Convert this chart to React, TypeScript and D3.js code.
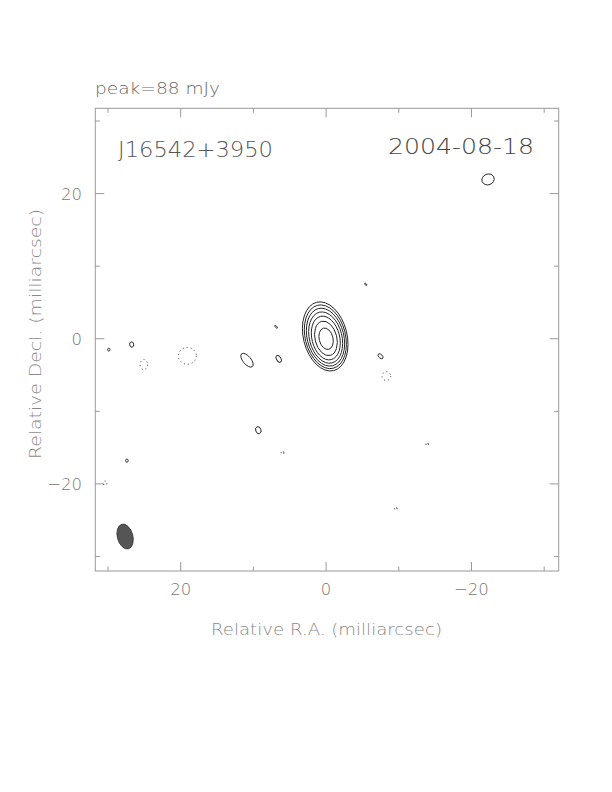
import React from "react";
import * as d3 from "d3";

// ---- data (milliarcsec) ----
const xDomain = [31.75, -32];
const yDomain = [31.75, -32];
const majorTicks = [20, 0, -20];
const minorTicks = [30, 10, -10, -30];
const tickLabels = ["20", "0", "\u221220"];

const sourceName = "J16542+3950";
const obsDate = "2004-08-18";
const peakLabel = "peak=88 mJy";
const xTitle = "Relative R.A. (milliarcsec)";
const yTitle = "Relative Decl. (milliarcsec)";

// positive contours: [x, y, semi-axis along PA, perpendicular semi-axis, rotation deg]
const coreContours: number[][] = [
  [0.12, 0.32, 4.85, 3.0, -14],
  [0.1, 0.27, 4.47, 2.77, -14],
  [0.08, 0.22, 4.06, 2.52, -14],
  [0.06, 0.16, 3.6, 2.24, -14],
  [0.04, 0.1, 3.07, 1.91, -14],
  [0.02, 0.05, 2.42, 1.5, -14],
  [0.0, 0.0, 1.5, 0.95, -14],
];

const positiveContours: number[][] = [
  [-22.28, 21.95, 0.74, 0.86, -20],
  [10.88, -2.96, 1.15, 0.55, -40],
  [6.52, -2.77, 0.5, 0.3, -30],
  [-7.49, -2.41, 0.42, 0.25, -45],
  [26.75, -0.8, 0.37, 0.28, -10],
  [29.9, -1.5, 0.2, 0.16, 0],
  [9.32, -12.6, 0.5, 0.36, -20],
  [27.4, -16.8, 0.22, 0.18, 0],
  [6.88, 1.65, 0.25, 0.1, -45],
  [-5.45, 7.5, 0.18, 0.1, -45],
];

const negativeContours: number[][] = [
  [19.09, -2.36, 1.15, 1.24, 0],
  [25.07, -3.56, 0.69, 0.52, 0],
  [-8.29, -5.15, 0.6, 0.6, 0],
  [5.99, -15.7, 0.25, 0.18, 0],
  [30.4, -19.9, 0.3, 0.25, 0],
  [-13.9, -14.5, 0.25, 0.15, -30],
  [-9.6, -23.4, 0.25, 0.15, -30],
];

const beam = { x: 27.65, y: -27.25, maj: 1.75, min: 1.07, rot: -15 };

const x = d3.scaleLinear().domain(xDomain).range([95.3, 558.7]);
const y = d3.scaleLinear().domain(yDomain).range([108.3, 571]);
const kx = Math.abs(x(1) - x(0));
const ky = Math.abs(y(1) - y(0));

const FONT = "'DejaVu Sans', sans-serif";

function Ell({ c, dashed }: { c: number[]; dashed?: boolean }) {
  const cx = x(c[0]);
  const cy = y(c[1]);
  return (
    <ellipse
      cx={cx}
      cy={cy}
      rx={c[3] * kx}
      ry={c[2] * ky}
      transform={`rotate(${c[4]} ${cx} ${cy})`}
      fill="none"
      stroke="#222"
      strokeWidth={0.9}
      strokeDasharray={dashed ? "1 3" : undefined}
    />
  );
}

export default function App() {
  const [x0, x1] = x.range();
  const [y0, y1] = y.range();
  const frame = "#999";
  return (
    <svg
      width={612}
      height={792}
      style={{ position: "absolute", left: 0, top: 0, background: "#fff" }}
    >
      <rect x={0} y={0} width={612} height={792} fill="#fff" />
      {/* frame */}
      <rect x={x0} y={y0} width={x1 - x0} height={y1 - y0} fill="none" stroke={frame} strokeWidth={1} />
      {/* ticks */}
      {majorTicks.map((t) => (
        <g key={"M" + t} stroke={frame} strokeWidth={1}>
          <line x1={x(t)} x2={x(t)} y1={y1} y2={y1 - 9} />
          <line x1={x(t)} x2={x(t)} y1={y0} y2={y0 + 9} />
          <line x1={x0} x2={x0 + 9} y1={y(t)} y2={y(t)} />
          <line x1={x1} x2={x1 - 9} y1={y(t)} y2={y(t)} />
        </g>
      ))}
      {minorTicks.map((t) => (
        <g key={"m" + t} stroke={frame} strokeWidth={1}>
          <line x1={x(t)} x2={x(t)} y1={y1} y2={y1 - 4.5} />
          <line x1={x(t)} x2={x(t)} y1={y0} y2={y0 + 4.5} />
          <line x1={x0} x2={x0 + 4.5} y1={y(t)} y2={y(t)} />
          <line x1={x1} x2={x1 - 4.5} y1={y(t)} y2={y(t)} />
        </g>
      ))}
      {/* tick labels */}
      {majorTicks.map((t, i) => (
        <text key={"xl" + t} x={x(t)} y={595} textAnchor="middle" fontFamily={FONT} fontWeight={200} fontSize={16.5} fill="#777">
          {tickLabels[i]}
        </text>
      ))}
      {majorTicks.map((t, i) => (
        <text key={"yl" + t} x={82} y={y(t) + 6.5} textAnchor="end" fontFamily={FONT} fontWeight={200} fontSize={16.5} fill="#777">
          {tickLabels[i]}
        </text>
      ))}
      {/* titles */}
      <text x={326.5} y={635} textAnchor="middle" fontFamily={FONT} fontWeight={200} fontSize={16.5} fill="#888" textLength={231} lengthAdjust="spacingAndGlyphs">
        {xTitle}
      </text>
      <text transform={`translate(41,334) rotate(-90)`} textAnchor="middle" fontFamily={FONT} fontWeight={200} fontSize={16.5} fill="#888" textLength={250} lengthAdjust="spacingAndGlyphs">
        {yTitle}
      </text>
      <text x={95} y={94} fontFamily={FONT} fontWeight={200} fontSize={15.5} fill="#666" textLength={125} lengthAdjust="spacingAndGlyphs">
        {peakLabel}
      </text>
      <text x={118} y={157} fontFamily={FONT} fontWeight={200} fontSize={21} fill="#555" textLength={155} lengthAdjust="spacingAndGlyphs">
        {sourceName}
      </text>
      <text x={388} y={154} fontFamily={FONT} fontWeight={200} fontSize={21} fill="#444" textLength={146} lengthAdjust="spacingAndGlyphs">
        {obsDate}
      </text>
      {/* contours */}
      {coreContours.map((c, i) => (
        <Ell key={"c" + i} c={c} />
      ))}
      {positiveContours.map((c, i) => (
        <Ell key={"p" + i} c={c} />
      ))}
      {negativeContours.map((c, i) => (
        <Ell key={"n" + i} c={c} dashed />
      ))}
      {/* beam */}
      <ellipse
        cx={x(beam.x)}
        cy={y(beam.y)}
        rx={beam.min * kx}
        ry={beam.maj * ky}
        transform={`rotate(${beam.rot} ${x(beam.x)} ${y(beam.y)})`}
        fill="#555"
        stroke="#333"
        strokeWidth={0.8}
      />
    </svg>
  );
}
